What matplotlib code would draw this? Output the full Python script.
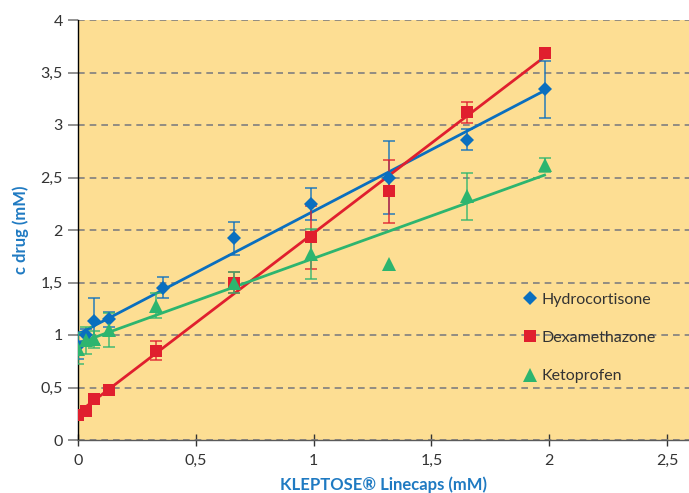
import numpy as np
import matplotlib
matplotlib.use("Agg")
import matplotlib.pyplot as plt
from matplotlib.ticker import FuncFormatter

plt.rcParams['font.family'] = ['Lato', 'DejaVu Sans']

x = [0, 0.033, 0.066, 0.13, 0.33, 0.66, 0.99, 1.32, 1.65, 1.98]
x_hc = [0, 0.033, 0.066, 0.13, 0.36, 0.66, 0.99, 1.32, 1.65, 1.98]

hydro = [0.90, 1.00, 1.13, 1.15, 1.45, 1.92, 2.25, 2.50, 2.86, 3.34]
hydro_err = [0.13, 0.06, 0.22, 0.07, 0.10, 0.16, 0.15, 0.35, 0.10, 0.27]

dexa = [0.24, 0.28, 0.39, 0.48, 0.85, 1.50, 1.93, 2.37, 3.12, 3.69]
dexa_err = [0.0, 0.0, 0.0, 0.0, 0.09, 0.10, 0.30, 0.30, 0.10, 0.0]

keto = [0.87, 0.95, 0.96, 1.05, 1.28, 1.50, 1.77, 1.68, 2.32, 2.62]
keto_err = [0.15, 0.13, 0.08, 0.16, 0.12, 0.10, 0.24, 0.0, 0.22, 0.07]

names = ["Hydrocortisone", "Dexamethazone", "Ketoprofen"]
colors = ["#0A6FBF", "#E01F2E", "#2DB56F"]
markers = ["D", "s", "^"]
msizes = [7.5, 8.5, 9.5]

fig = plt.figure(figsize=(6.89, 4.93), dpi=100)
ax = fig.add_axes([78/689, 53/493, 611/689, 420/493])
ax.set_facecolor("#FDDE93")

xs_all = [x_hc, x, x]
ys_all = [hydro, dexa, keto]
errs_all = [hydro_err, dexa_err, keto_err]

for xs, ys, es, c, m, ms, name in zip(xs_all, ys_all, errs_all, colors, markers, msizes, names):
    xs = np.array(xs); ys = np.array(ys); es = np.array(es)
    k, b = np.polyfit(xs, ys, 1)
    xf = np.array([xs.min(), xs.max()])
    ax.plot(xf, k * xf + b, color=c, lw=2, zorder=3)
    mask = es > 0
    ax.errorbar(xs[mask], ys[mask], yerr=es[mask], fmt='none', ecolor=c, elinewidth=1.3,
                capsize=4, capthick=1.3, alpha=0.75, zorder=4)
    ax.plot(xs, ys, linestyle='none', marker=m, markersize=ms, color=c, label=name, zorder=5,
            markeredgewidth=0)

ax.set_xlim(0, 2.593)
ax.set_ylim(0, 4)
ax.set_xticks([0, 0.5, 1, 1.5, 2, 2.5])
ax.set_yticks(np.arange(0, 4.01, 0.5))
fmt = FuncFormatter(lambda v, p: ("%g" % v).replace(".", ","))
ax.xaxis.set_major_formatter(fmt)
ax.yaxis.set_major_formatter(fmt)

ax.yaxis.grid(True, linestyle=(0, (4, 3)), color="#7F7F7F", lw=1.2)
ax.set_axisbelow(True)
for s in ["top", "right"]:
    ax.spines[s].set_visible(False)
ax.spines["left"].set_color("black")
ax.spines["left"].set_linewidth(1)
ax.spines["bottom"].set_color("#5A5A5A")
ax.spines["bottom"].set_linewidth(1)
ax.tick_params(axis='y', length=7, width=1.2, color="#7F7F7F", labelsize=11.5, labelcolor="#333333", pad=4)
ax.tick_params(axis='x', direction='inout', length=8, width=1, color="#333333", labelsize=11.5,
               labelcolor="#333333", pad=6)

ax.set_xlabel("KLEPTOSE® Linecaps (mM)", color="#1F7AC2", fontsize=12, fontweight='bold', labelpad=6)
ax.set_ylabel("c drug (mM)", color="#1F7AC2", fontsize=12, fontweight='bold', labelpad=8)

leg = ax.legend(loc='upper left', bbox_to_anchor=(0.705, 0.385), frameon=False, handlelength=0.9,
                handletextpad=0.25, labelspacing=1.5, fontsize=11.5)
for t in leg.get_texts():
    t.set_color("#333333")

fig.savefig("out.png", dpi=100, facecolor="white")
